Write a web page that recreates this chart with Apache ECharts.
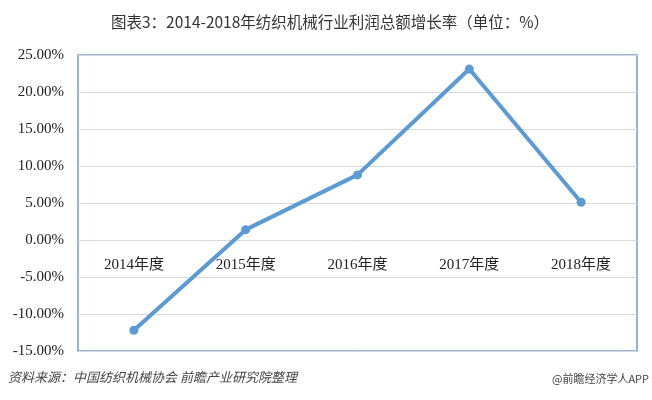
<!DOCTYPE html>
<html><head><meta charset="utf-8">
<script src="https://cdn.jsdelivr.net/npm/echarts@6/dist/echarts.min.js"></script>
<style>html,body{margin:0;padding:0;background:#fff}#c{width:652px;height:400px}</style>
</head><body><div id="c"></div>
<script>
var categories = ['2014年度', '2015年度', '2016年度', '2017年度', '2018年度'];
var growth = [-12.2, 1.4, 8.8, 23.1, 5.1];
var titleText = '图表3：2014-2018年纺织机械行业利润总额增长率（单位：%）';
var sourceText = '资料来源：中国纺织机械协会 前瞻产业研究院整理';
var brandText = '@前瞻经济学人APP';

var chart = echarts.init(document.getElementById('c'));
var serif = "'Liberation Serif','Times New Roman','Noto Sans CJK SC',serif";
chart.setOption({
  animation: false,
  title: [{
    text: titleText, left: 106, top: 9,
    textStyle: {fontSize: 15.5, fontWeight: 'normal', color: '#333', fontFamily: "'Noto Sans CJK SC',sans-serif"}
  }],
  graphic: [
    {type: 'text', left: 8, top: 371, style: {text: sourceText, fontSize: 13, fontStyle: 'italic', fill: '#444', fontFamily: "'Noto Sans CJK SC',sans-serif"}},
    {type: 'text', right: 3, top: 373, style: {text: brandText, fontSize: 11, fill: '#444', fontFamily: "'Noto Sans CJK SC',sans-serif"}}
  ],
  grid: {left: 78, right: 15, top: 55, bottom: 49, show: true, borderColor: '#6d9fd2', borderWidth: 1.5, containLabel: false},
  xAxis: {
    type: 'category', data: categories, boundaryGap: true, position: 'bottom', offset: 0,
    axisLine: {show: false, onZero: false},
    axisTick: {show: false},
    axisLabel: {color: '#222', fontSize: 15, fontFamily: serif, margin: 18}
  },
  yAxis: {
    type: 'value', min: -15, max: 25, interval: 5,
    axisLine: {show: false}, axisTick: {show: false},
    splitLine: {lineStyle: {color: '#d9d9d9', width: 1}},
    axisLabel: {color: '#222', fontSize: 15, fontFamily: serif, margin: 14,
      formatter: function (v) { return v.toFixed(2) + '%'; }}
  },
  series: [{
    type: 'line', data: growth, symbol: 'circle', symbolSize: 9,
    lineStyle: {color: '#5b9bd5', width: 4},
    itemStyle: {color: '#5b9bd5'}
  }]
});
// place the category labels just under the zero line, as in the reference
var zeroY = chart.convertToPixel({yAxisIndex: 0}, 0);
var bottomY = chart.convertToPixel({yAxisIndex: 0}, -15);
chart.setOption({xAxis: {offset: -(bottomY - zeroY)}});
</script></body></html>
